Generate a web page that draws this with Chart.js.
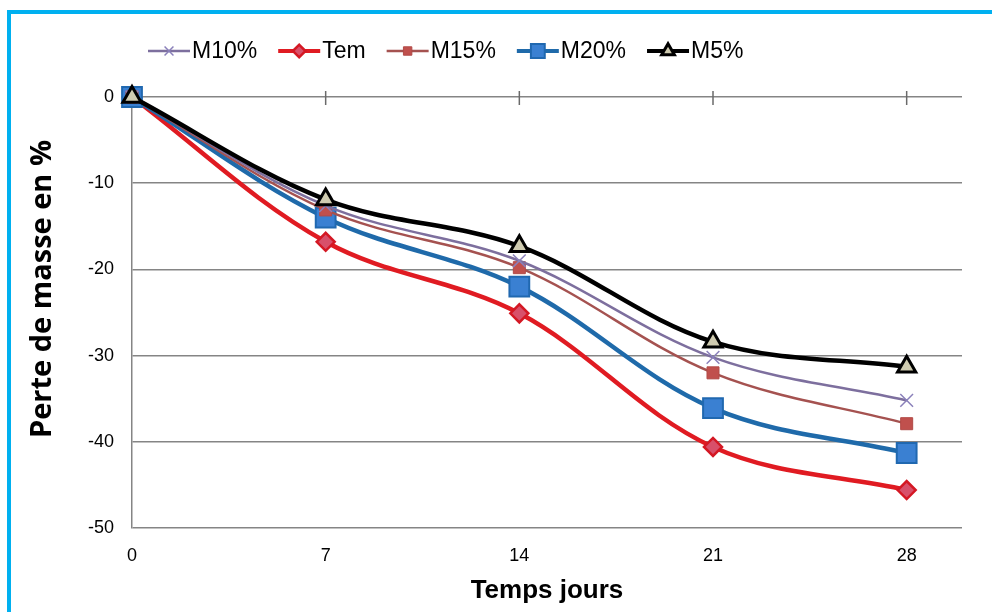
<!DOCTYPE html>
<html>
<head>
<meta charset="utf-8">
<style>
  body { margin: 0; background: #fff; }
  #wrap { position: relative; width: 992px; height: 612px; overflow: hidden; background: #fff; }
  #frame { position: absolute; left: 7px; top: 10px; width: 1100px; height: 800px;
           border-top: 4px solid #00B0F0; border-left: 4px solid #00B0F0; pointer-events: none; }
</style>
</head>
<body>
<div id="wrap">
  <canvas id="chart" width="992" height="612"></canvas>
  <div id="frame"></div>
</div>

<script src="https://cdn.jsdelivr.net/npm/chart.js"></script>

<script>
  // mass loss (%) against time (days)
  const days = [0, 7, 14, 21, 28]
  const m10 = [0, -12.6, -19.0, -30.2, -35.2]
  const tem = [0, -16.8, -25.1, -40.6, -45.6]
  const m15 = [0, -13.1, -19.8, -32.0, -37.9]
  const m20 = [0, -14.0, -22.0, -36.1, -41.3]
  const m5 = [0, -11.9, -17.3, -28.4, -31.3]

  const xTicks = [0, 7, 14, 21, 28]
  const yTicks = [-50, -40, -30, -20, -10, 0]
  const yTitle = 'Perte de masse en %'

  const toPoints = arr => arr.map((v, i) => ({x: days[i], y: v}))

  const tickFont = {family: '"Liberation Sans Narrow", "Liberation Sans", Arial, sans-serif', size: 18}

  // small cross ticks where the x axis meets y = 0
  const zeroTicks = {
    id: 'zeroTicks',
    beforeDatasetsDraw(chart) {
      const {ctx, scales: {x, y}} = chart
      const y0 = y.getPixelForValue(0)
      ctx.save()
      ctx.strokeStyle = '#6a6a6a'
      ctx.lineWidth = 1.5
      x.ticks.forEach(t => {
        const px = x.getPixelForValue(t.value)
        ctx.beginPath()
        ctx.moveTo(px, y0 - 6)
        ctx.lineTo(px, y0 + 8)
        ctx.stroke()
      })
      ctx.restore()
    }
  }

  // vertical axis title, sits a bit above the middle of the axis
  const sideTitle = {
    id: 'sideTitle',
    afterDraw(chart) {
      const ctx = chart.ctx
      ctx.save()
      ctx.translate(43, 289)
      ctx.rotate(-Math.PI / 2)
      ctx.font = 'bold 29px "Open Sans", sans-serif'
      ctx.fillStyle = '#000'
      ctx.textAlign = 'center'
      ctx.textBaseline = 'middle'
      ctx.fillText(yTitle, 0, 0)
      ctx.restore()
    }
  }

  // legend entries drawn as a short line with the marker in the middle
  const lineLegend = {
    id: 'lineLegend',
    afterDraw(chart) {
      const ctx = chart.ctx
      let x = 148
      const y = 51
      ctx.save()
      ctx.font = '23px "Liberation Sans", Arial, sans-serif'
      ctx.textBaseline = 'middle'
      chart.data.datasets.forEach(ds => {
        ctx.strokeStyle = ds.borderColor
        ctx.lineWidth = Math.min(ds.borderWidth, 4)
        ctx.beginPath()
        ctx.moveTo(x, y)
        ctx.lineTo(x + 42, y)
        ctx.stroke()
        ctx.fillStyle = ds.pointBackgroundColor
        ctx.strokeStyle = ds.pointBorderColor
        ctx.lineWidth = ds.pointBorderWidth
        Chart.helpers.drawPoint(ctx, {
          pointStyle: ds.pointStyle,
          radius: ds.pointRadius * 0.7,
          borderWidth: ds.pointBorderWidth,
          rotation: 0
        }, x + 21, y)
        ctx.fillStyle = '#000'
        ctx.fillText(ds.label, x + 44, y + 1)
        x += 44 + ctx.measureText(ds.label).width + 21
      })
      ctx.restore()
    }
  }

  const chart = new Chart(document.getElementById('chart'), {
    type: 'line',
    data: {
      datasets: [
        {
          label: 'M10%',
          data: toPoints(m10),
          borderColor: '#7D6F9E',
          borderWidth: 2.5,
          pointStyle: 'crossRot',
          pointRadius: 9,
          pointBackgroundColor: '#8A80BA',
          pointBorderColor: '#8A80BA',
          pointBorderWidth: 1.5,
          order: 1,
        },
        {
          label: 'Tem',
          data: toPoints(tem),
          borderColor: '#E01B22',
          borderWidth: 4.5,
          pointStyle: 'rectRot',
          pointRadius: 9,
          pointBackgroundColor: '#D8506A',
          pointBorderColor: '#D41824',
          pointBorderWidth: 2.5,
          order: 4,
        },
        {
          label: 'M15%',
          data: toPoints(m15),
          borderColor: '#A55250',
          borderWidth: 2.5,
          pointStyle: 'rect',
          pointRadius: 8.5,
          pointBackgroundColor: '#C0504D',
          pointBorderColor: '#B24A47',
          pointBorderWidth: 1,
          order: 2,
        },
        {
          label: 'M20%',
          data: toPoints(m20),
          borderColor: '#1F6AAA',
          borderWidth: 4.5,
          pointStyle: 'rect',
          pointRadius: 14,
          pointBackgroundColor: '#3A80D2',
          pointBorderColor: '#2068B0',
          pointBorderWidth: 2,
          order: 3,
        },
        {
          label: 'M5%',
          data: toPoints(m5),
          borderColor: '#000000',
          borderWidth: 4.5,
          pointStyle: 'triangle',
          pointRadius: 10.5,
          pointBackgroundColor: '#CFCBB0',
          pointBorderColor: '#000000',
          pointBorderWidth: 3,
          order: 0,
        },
      ]
    },
    options: {
      responsive: false,
      animation: false,
      layout: {padding: {top: 97, right: 30, left: 0, bottom: 0}},
      datasets: {line: {tension: 0.35, clip: false}},
      plugins: {
        legend: {display: false},
        tooltip: {enabled: false},
      },
      scales: {
        x: {
          type: 'linear',
          min: 0,
          max: 30,
          afterBuildTicks: s => { s.ticks = xTicks.map(v => ({value: v})) },
          afterFit: s => { s.height = 84 },
          grid: {display: false, drawTicks: false},
          border: {display: false},
          ticks: {padding: 17, color: '#000', font: tickFont},
          title: {
            display: true,
            text: 'Temps jours',
            color: '#000',
            font: {family: '"Liberation Sans", Arial, sans-serif', size: 26, weight: 'bold'},
            padding: {top: 0, bottom: 6},
          },
        },
        y: {
          min: -50,
          max: 0,
          afterBuildTicks: s => { s.ticks = yTicks.map(v => ({value: v})) },
          afterFit: s => { s.width = 132 },
          grid: {color: '#858585', lineWidth: 1.5, drawTicks: false},
          border: {color: '#858585', width: 1.5},
          ticks: {padding: 18, color: '#000', font: tickFont},
        },
      },
    },
    plugins: [zeroTicks, lineLegend, sideTitle],
  })
</script>
</body>
</html>
